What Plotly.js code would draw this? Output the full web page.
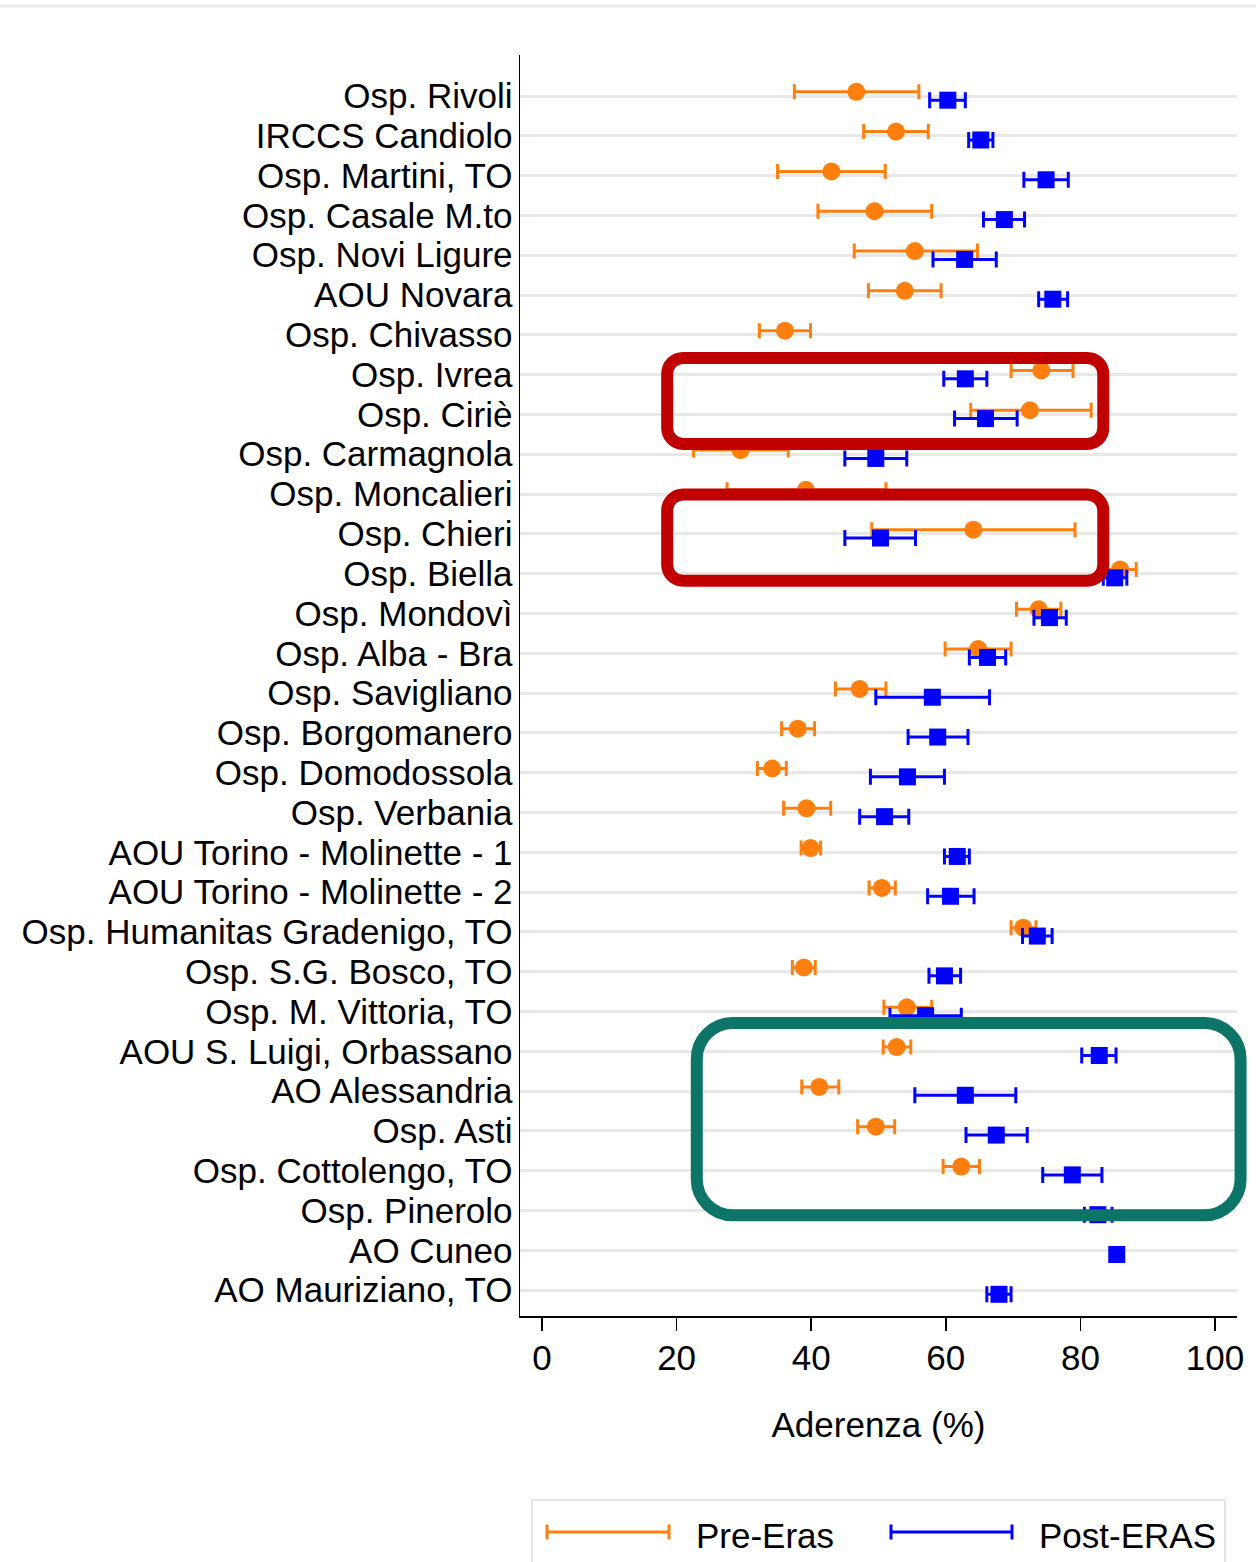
<!DOCTYPE html>
<html>
<head>
<meta charset="utf-8">
<script src="https://cdn.plot.ly/plotly-3.0.1.min.js"></script>
<style>
html,body{margin:0;padding:0;background:#fff;}
#chart{width:1256px;height:1562px;}
</style>
</head>
<body>
<div id="chart"></div>
<script>
// ---------- DATA ----------
const hospitals = ["Osp. Rivoli","IRCCS Candiolo","Osp. Martini, TO","Osp. Casale M.to","Osp. Novi Ligure","AOU Novara","Osp. Chivasso","Osp. Ivrea","Osp. Ciriè","Osp. Carmagnola","Osp. Moncalieri","Osp. Chieri","Osp. Biella","Osp. Mondovì","Osp. Alba - Bra","Osp. Savigliano","Osp. Borgomanero","Osp. Domodossola","Osp. Verbania","AOU Torino - Molinette - 1","AOU Torino - Molinette - 2","Osp. Humanitas Gradenigo, TO","Osp. S.G. Bosco, TO","Osp. M. Vittoria, TO","AOU S. Luigi, Orbassano","AO Alessandria","Osp. Asti","Osp. Cottolengo, TO","Osp. Pinerolo","AO Cuneo","AO Mauriziano, TO"];

const preMean = [46.7,52.6,43.0,49.4,55.4,53.9,36.1,74.2,72.5,29.5,39.2,64.1,85.9,73.8,64.8,47.2,38.0,34.2,39.3,39.9,50.5,71.5,38.9,54.2,52.7,41.2,49.6,62.3,null,null,null];
const preLow  = [37.5,47.8,35.0,41.0,46.4,48.5,32.3,69.7,63.7,22.5,27.5,49.0,83.4,70.5,59.9,43.6,35.6,32.0,35.9,38.5,48.6,69.7,37.2,50.8,50.7,38.6,46.9,59.6,null,null,null];
const preHigh = [56.0,57.4,51.0,57.9,64.7,59.3,39.9,78.9,81.6,36.6,51.1,79.2,88.3,77.1,69.7,51.1,40.5,36.3,42.9,41.4,52.5,73.4,40.6,57.9,54.8,44.1,52.4,65.0,null,null,null];

const postMean = [60.3,65.2,74.9,68.7,62.8,75.9,null,62.9,65.9,49.6,null,50.3,85.1,75.4,66.2,58.0,58.8,54.3,50.9,61.7,60.7,73.6,59.8,57.0,82.8,62.9,67.5,78.8,82.6,85.4,67.9];
const postLow  = [57.6,63.4,71.6,65.6,58.1,73.8,null,59.7,61.3,45.0,null,45.0,83.4,73.1,63.5,49.6,54.4,48.8,47.2,59.8,57.3,71.4,57.5,51.7,80.2,55.4,63.0,74.4,80.6,85.0,66.1];
const postHigh = [62.9,67.0,78.2,71.7,67.5,78.1,null,66.1,70.6,54.2,null,55.5,86.9,77.9,68.9,66.5,63.3,59.8,54.5,63.5,64.2,75.8,62.2,62.3,85.3,70.4,72.1,83.2,84.7,85.8,69.7];

const seriesNames = ["Pre-Eras","Post-ERAS"];
const xTicks = [0,20,40,60,80,100];
const xTitle = "Aderenza (%)";

// ---------- LAYOUT CONSTANTS ----------
const ORANGE = "#ff7f0e", BLUE = "#0000ff", RED = "#c00000", TEAL = "#0d7468";
const FONT = "Liberation Sans, Arial, Helvetica, sans-serif";
const FS = 35;
const L = 520, T = 55, W = 717, H = 1261;
const XR = [-3.27, 103.27], YR = [0.35, 32.03];
const N = hospitals.length;
const rows = hospitals.map((h,i) => N - i);
const OFF = 0.105;

const dX = v => L + (v - XR[0]) / (XR[1] - XR[0]) * W;
const dY = r => T + (YR[1] - r) / (YR[1] - YR[0]) * H;
const pX = px => (px - L) / W;
const pY = py => (T + H - py) / H;

function roundRectPath(x0, x1, y0, y1, r) {
  const k = 0.5523 * r;
  const P = (x, y) => pX(x).toFixed(5) + "," + pY(y).toFixed(5);
  return "M" + P(x0 + r, y0) + " L" + P(x1 - r, y0) +
    " C" + P(x1 - r + k, y0) + " " + P(x1, y0 + r - k) + " " + P(x1, y0 + r) +
    " L" + P(x1, y1 - r) +
    " C" + P(x1, y1 - r + k) + " " + P(x1 - r + k, y1) + " " + P(x1 - r, y1) +
    " L" + P(x0 + r, y1) +
    " C" + P(x0 + r - k, y1) + " " + P(x0, y1 - r + k) + " " + P(x0, y1 - r) +
    " L" + P(x0, y0 + r) +
    " C" + P(x0, y0 + r - k) + " " + P(x0 + r - k, y0) + " " + P(x0 + r, y0) + " Z";
}
// highlight boxes in data units: [xmin, xmax], [rowBottom, rowTop], corner radius px
const boxes = [
  {x:[18.6, 83.4], y:[22.26, 24.42], r:16, color:RED},
  {x:[18.6, 83.4], y:[18.82, 20.99], r:16, color:RED},
  {x:[23.0, 103.8], y:[2.88, 7.71], r:36, color:TEAL}
];

function errPlus(mean, high){ return mean.map((m,i) => m == null ? null : high[i] - m); }
function errMinus(mean, low){ return mean.map((m,i) => m == null ? null : m - low[i]); }

const tracePre = {
  type: "scatter", mode: "markers", name: seriesNames[0],
  x: preMean, y: rows.map(r => r + OFF),
  marker: {symbol: "circle", size: 18, color: ORANGE},
  error_x: {type: "data", symmetric: false, array: errPlus(preMean, preHigh), arrayminus: errMinus(preMean, preLow),
            color: ORANGE, thickness: 3, width: 7.5},
  showlegend: false, cliponaxis: false
};
const tracePost = {
  type: "scatter", mode: "markers", name: seriesNames[1],
  x: postMean, y: rows.map(r => r - OFF),
  marker: {symbol: "square", size: 17, color: BLUE},
  error_x: {type: "data", symmetric: false, array: errPlus(postMean, postHigh), arrayminus: errMinus(postMean, postLow),
            color: BLUE, thickness: 3, width: 8},
  showlegend: false, cliponaxis: false
};

const shapes = [];
// top frame line
shapes.push({type:"line", xref:"paper", yref:"paper", x0:pX(0), x1:pX(1256), y0:pY(6), y1:pY(6),
             line:{color:"#ebebeb", width:3}});
boxes.forEach(b => {
  shapes.push({type:"path", xref:"paper", yref:"paper", layer:"above",
    path: roundRectPath(dX(b.x[0]), dX(b.x[1]), dY(b.y[1]), dY(b.y[0]), b.r),
    line:{color:b.color, width:12}, fillcolor:"rgba(0,0,0,0)"});
});
// manual legend
const legY = 1532;
shapes.push({type:"rect", xref:"paper", yref:"paper", x0:pX(532), x1:pX(1225), y0:pY(1500), y1:pY(1575),
             line:{color:"#e6e6e6", width:2}, fillcolor:"rgba(0,0,0,0)"});
[[547,669,ORANGE],[891,1012,BLUE]].forEach(s => {
  shapes.push({type:"line", xref:"paper", yref:"paper", x0:pX(s[0]), x1:pX(s[1]), y0:pY(legY), y1:pY(legY), line:{color:s[2], width:3}});
  shapes.push({type:"line", xref:"paper", yref:"paper", x0:pX(s[0]), x1:pX(s[0]), y0:pY(legY-7.5), y1:pY(legY+7.5), line:{color:s[2], width:3}});
  shapes.push({type:"line", xref:"paper", yref:"paper", x0:pX(s[1]), x1:pX(s[1]), y0:pY(legY-7.5), y1:pY(legY+7.5), line:{color:s[2], width:3}});
});
const annotations = [
  {xref:"paper", yref:"paper", x:pX(694), y:pY(legY + 3), xanchor:"left", yanchor:"middle", showarrow:false,
   text:seriesNames[0], font:{family:FONT, size:FS, color:"#000"}},
  {xref:"paper", yref:"paper", x:pX(1037), y:pY(legY + 3), xanchor:"left", yanchor:"middle", showarrow:false,
   text:seriesNames[1], font:{family:FONT, size:FS, color:"#000"}}
];

const layout = {
  width: 1256, height: 1562,
  margin: {l: L, r: 1256 - L - W, t: T, b: 1562 - T - H, pad: 0},
  paper_bgcolor: "#fff", plot_bgcolor: "#fff",
  font: {family: FONT, size: FS, color: "#000"},
  showlegend: false,
  xaxis: {
    range: XR, tickvals: xTicks, ticktext: xTicks.map(String),
    ticks: "outside", ticklen: 13, tickwidth: 1.5, tickcolor: "#000",
    ticklabelstandoff: -3,
    showline: true, linecolor: "#000", linewidth: 1.5,
    showgrid: false, zeroline: false,
    tickfont: {family: FONT, size: FS, color: "#000"},
    title: {text: xTitle, font: {family: FONT, size: FS, color: "#000"}, standoff: 37},
    automargin: false, fixedrange: true
  },
  yaxis: {
    range: YR, tickvals: rows, ticktext: hospitals,
    ticks: "", ticklabelstandoff: -1,
    showline: true, linecolor: "#000", linewidth: 1.5,
    showgrid: true, gridcolor: "#e8e8e8", gridwidth: 3, zeroline: false,
    tickfont: {family: FONT, size: FS, color: "#000"},
    automargin: false, fixedrange: true
  },
  shapes: shapes,
  annotations: annotations
};

Plotly.newPlot("chart", [tracePre, tracePost], layout, {staticPlot: true, displayModeBar: false});
</script>
</body>
</html>
